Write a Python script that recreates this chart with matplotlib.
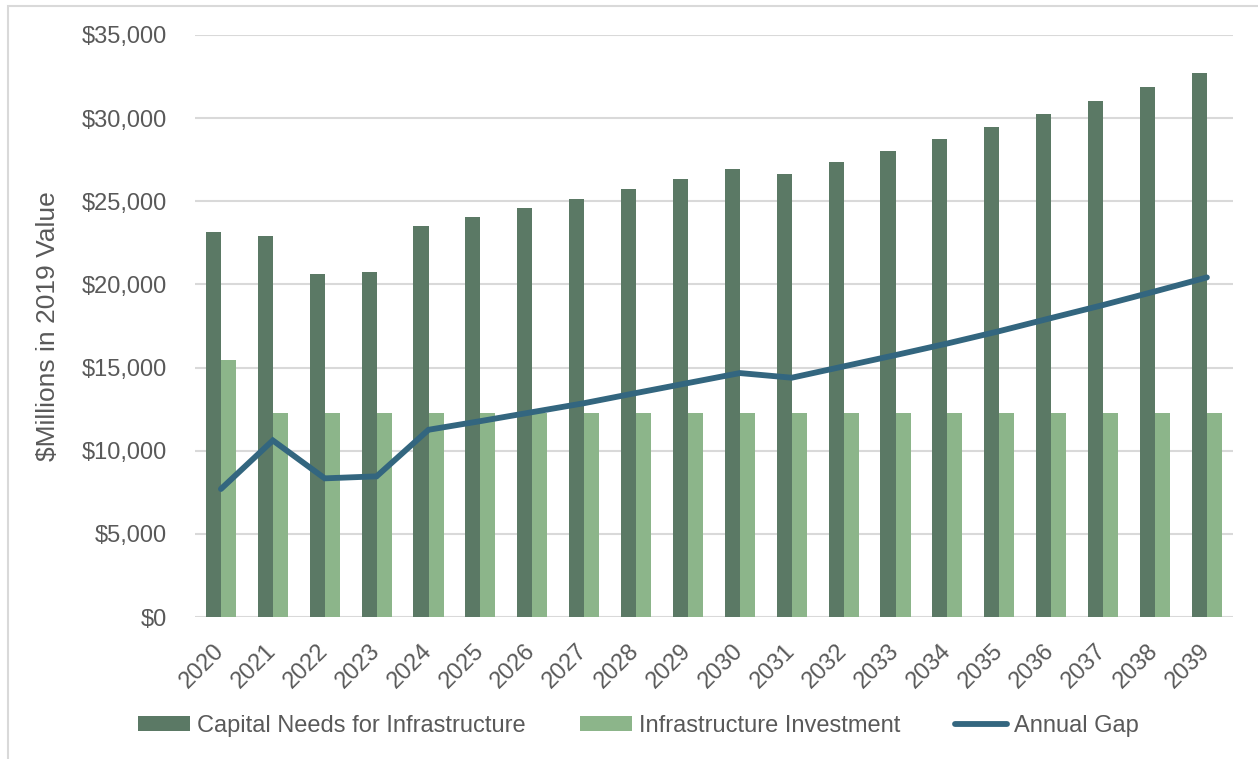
import matplotlib.pyplot as plt
import numpy as np
from matplotlib.patches import Rectangle
from matplotlib.ticker import FuncFormatter

plt.rcParams['font.family'] = ['Liberation Sans', 'DejaVu Sans']

years = [str(y) for y in range(2020, 2040)]
capital_needs = [23130, 22890, 20610, 20730, 23530, 24050, 24590, 25130, 25740, 26340,
                 26940, 26660, 27340, 28020, 28720, 29460, 30250, 31030, 31850, 32690]
investment = [15450, 12270, 12270, 12270, 12270, 12270, 12270, 12270, 12270, 12270,
              12270, 12270, 12270, 12270, 12270, 12270, 12270, 12270, 12270, 12270]
annual_gap = [7700, 10620, 8340, 8460, 11260, 11780, 12320, 12860, 13470, 14070,
              14670, 14390, 15070, 15750, 16450, 17190, 17980, 18760, 19580, 20420]

dark_green = "#5B7965"
light_green = "#8CB58A"
gap_blue = "#33667F"
text_gray = "#595959"

fig = plt.figure(figsize=(12.58, 7.59), dpi=100)
ax = fig.add_axes([0.155, 0.187, 0.825, 0.767])

# light frame on the left and top of the chart area
fig.patches.append(Rectangle((8 / 1258, -0.05), 1.1, 1 - 6 / 759 + 0.05,
                             transform=fig.transFigure, fill=False,
                             edgecolor="#D9D9D9", linewidth=1.5))

x = np.arange(len(years))
w = 0.29
b1 = ax.bar(x - w / 2, capital_needs, w, color=dark_green, label="Capital Needs for Infrastructure", zorder=2)
b2 = ax.bar(x + w / 2, investment, w, color=light_green, label="Infrastructure Investment", zorder=2)
l1, = ax.plot(x, annual_gap, color=gap_blue, linewidth=4.2, solid_capstyle="round",
              solid_joinstyle="miter", label="Annual Gap", zorder=3)

ax.set_xlim(-0.5, len(years) - 0.5)
ax.set_ylim(0, 35000)
ax.set_yticks(np.arange(0, 35001, 5000))
ax.yaxis.set_major_formatter(FuncFormatter(lambda v, p: f"${v:,.0f}"))
ax.grid(axis="y", color="#D9D9D9", linewidth=1.5, zorder=0)
for s in ax.spines.values():
    s.set_visible(False)

ax.set_xticks(x)
ax.set_xticklabels(years, rotation=45, ha="right", va="center", rotation_mode="anchor")
ax.tick_params(axis="x", length=0, pad=22, labelsize=17, labelcolor=text_gray)
ax.tick_params(axis="y", length=0, pad=20, labelsize=17, labelcolor=text_gray)

ax.set_ylabel("$Millions in 2019 Value", fontsize=19, color=text_gray, labelpad=16)

leg = ax.legend([b1, b2, l1], [b1.get_label(), b2.get_label(), l1.get_label()],
                loc="center", bbox_to_anchor=(0.427, -0.187), ncol=3, frameon=False,
                fontsize=17, handlelength=2.2, handleheight=0.55, handletextpad=0.3,
                columnspacing=2.3)
for t in leg.get_texts():
    t.set_color(text_gray)

fig.savefig("out.png", dpi=100)
